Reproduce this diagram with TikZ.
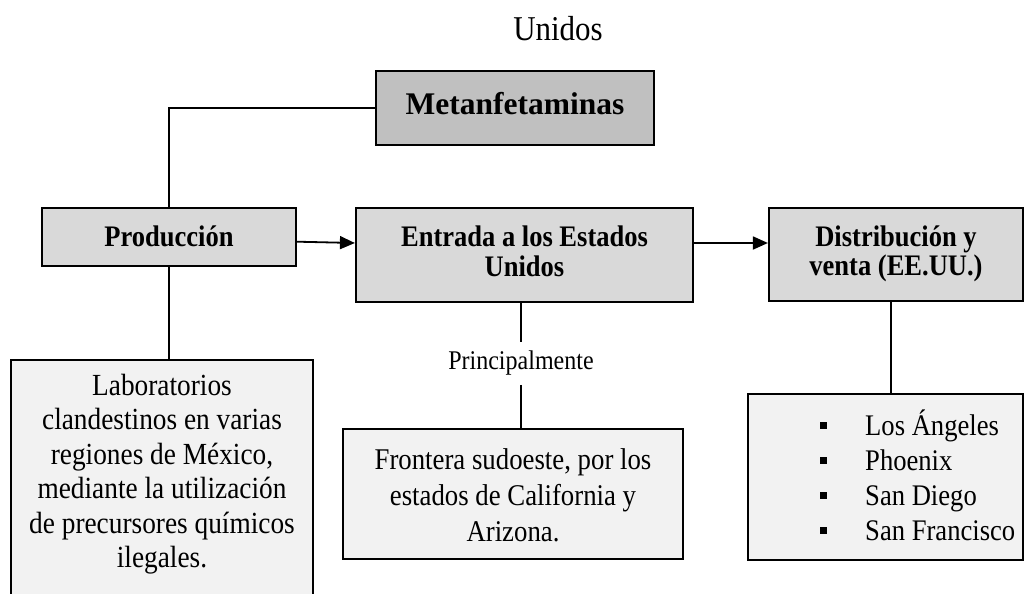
\documentclass[tikz,border=0pt]{standalone}
\usepackage{fontspec}
\setmainfont{Liberation Serif}[FakeStretch=0.89]
\newfontfamily\metafont{Liberation Serif}
\usetikzlibrary{arrows.meta,calc}
\definecolor{hdr}{HTML}{C0C0C0}
\definecolor{mid}{HTML}{D9D9D9}
\definecolor{low}{HTML}{F2F2F2}
\newcommand\bul{\makebox[45pt][l]{\rule[6.3pt]{7pt}{7pt}}}
\begin{document}
\begin{tikzpicture}[x=1pt,y=-1pt,
  box/.style={draw=black, line width=2.2pt, rectangle, inner sep=0pt},
  conn/.style={line width=1.8pt},
  arr/.style={conn, -{Triangle[length=15pt,width=13pt]}},
  bt/.style={font=\bfseries\fontsize{29.8}{29.5}\selectfont, align=center, inner sep=0pt},
  rt/.style={align=center, inner sep=0pt}]
\useasboundingbox (0,0) rectangle (1025,594);
\clip (0,0) rectangle (1025,594);
% boxes
\node[box, fill=hdr, minimum width=278pt, minimum height=74pt] (meta) at (515,108) {};
\node[box, fill=mid, minimum width=254pt, minimum height=58pt] (prod) at (169,237) {};
\node[box, fill=mid, minimum width=337pt, minimum height=94pt] (entr) at (524.5,255) {};
\node[box, fill=mid, minimum width=254pt, minimum height=93pt] (dist) at (896,254.5) {};
\node[box, fill=low, minimum width=302pt, minimum height=260pt, anchor=north] (lab) at (162,359) {};
\node[box, fill=low, minimum width=340pt, minimum height=130pt] (front) at (513,494) {};
\node[box, fill=low, minimum width=275pt, minimum height=166pt] (list) at (885.5,477) {};
% texts
\node[rt, font=\fontsize{34.8}{38}\selectfont] (unidos) at (558,29) {Unidos};
\node[bt, font=\metafont\bfseries\fontsize{31.5}{34}\selectfont] (metat) at (515,104) {Metanfetaminas};
\node[bt] (prodt) at (169,236) {Producción};
\node[bt] (entrt) at (524.5,251.5) {Entrada a los Estados\\Unidos};
\node[bt] (distt) at (896,254) {Distribución y\\venta (EE.UU.)};
\node[rt, font=\fontsize{30.7}{34.5}\selectfont] (labt) at (162,474) {Laboratorios\\clandestinos en varias\\regiones de México,\\mediante la utilización\\de precursores químicos\\ilegales.};
\node[rt, font=\fontsize{30.1}{36}\selectfont] (frontt) at (513,495) {Frontera sudoeste, por los\\estados de California y\\Arizona.};
\node[rt, font=\fontsize{27}{30}\selectfont] (princ) at (521,363.5) {Principalmente};
\node[rt, align=left, anchor=west, font=\fontsize{29.9}{35}\selectfont] (listt) at (820,475.5) {\bul Los Ángeles\\\bul Phoenix\\\bul San Diego\\\bul San Francisco};
% connectors
\draw[conn] (meta.west) -| (prod.north);
\draw[arr] ([yshift=-4.7pt]prod.east) -- ([yshift=12pt]entr.west);
\draw[arr] ([yshift=12pt]entr.east) -- ([yshift=11.5pt]dist.west);
\draw[conn] (prod.south) -- (prod.south |- lab.north);
\draw[conn] (princ.north |- entr.south) -- ([yshift=9pt]princ.north);
\draw[conn] ([yshift=-9pt]princ.south) -- (princ.south |- front.north);
\draw[conn] ([xshift=-5pt]dist.south) -- ([xshift=5.5pt]list.north);
\end{tikzpicture}
\end{document}
